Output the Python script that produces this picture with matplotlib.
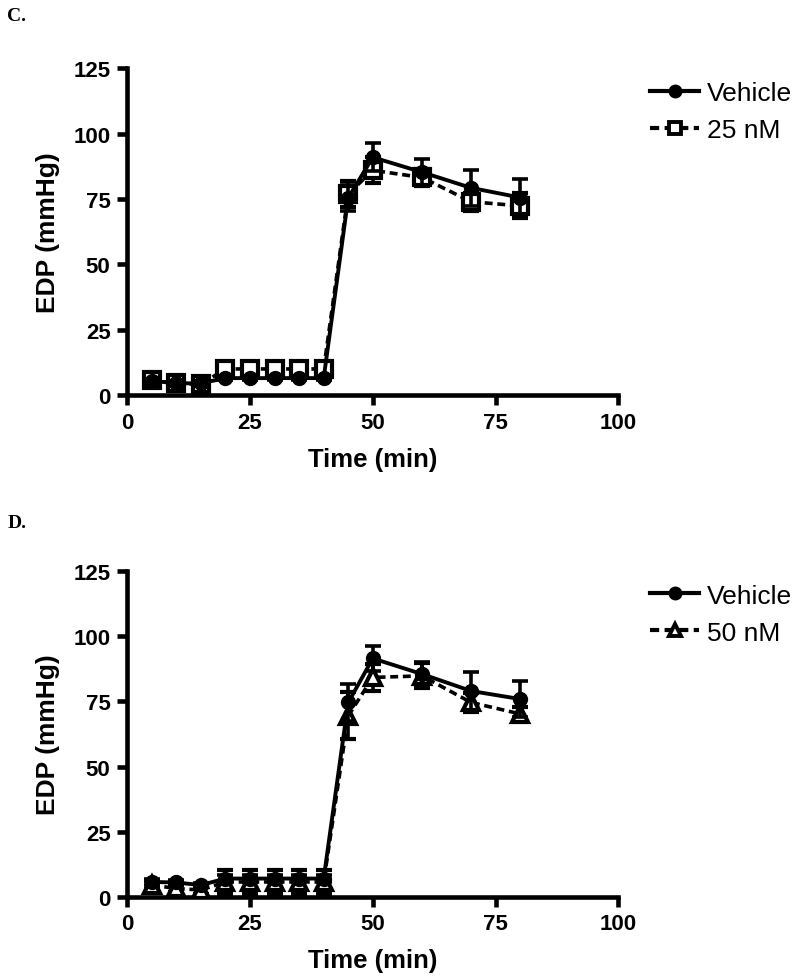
import numpy as np
from matplotlib import pyplot as plt
from matplotlib.lines import Line2D

plt.rcParams['font.family'] = ['Liberation Sans', 'DejaVu Sans']

# time points (min)
time = [5, 10, 15, 20, 25, 30, 35, 40, 45, 50, 60, 70, 80]

# panel C
veh_c = [5.5, 4.5, 4.5, 6.5, 6.5, 6.5, 6.5, 6.5, 75.5, 91.0, 85.3, 79.3, 75.6]
veh_c_err = [0.8, 0.6, 0.6, 0.8, 0.8, 0.8, 0.8, 0.8, 5.0, 5.4, 5.0, 7.0, 7.0]
nm25 = [5.8, 4.5, 4.1, 10.0, 10.0, 10.0, 10.0, 10.0, 77.0, 86.0, 83.3, 74.0, 72.4]
nm25_err = [0.8, 0.6, 0.6, 1.2, 1.2, 1.2, 1.2, 1.2, 5.0, 5.0, 3.3, 3.5, 4.8]

# panel D
veh_d = [5.7, 5.5, 4.5, 7.0, 7.0, 7.0, 7.0, 7.0, 74.6, 91.5, 85.5, 79.0, 75.9]
veh_d_err = [1.0, 0.8, 0.8, 1.2, 1.2, 1.2, 1.2, 1.2, 7.0, 4.8, 4.7, 7.4, 7.0]
nm50 = [4.5, 3.2, 2.6, 5.7, 5.7, 5.7, 5.7, 5.7, 69.5, 84.2, 84.8, 74.6, 70.2]
nm50_err = [1.5, 1.5, 1.5, 4.5, 4.5, 4.5, 4.5, 4.5, 9.0, 5.2, 4.8, 3.8, 2.6]

xticks = [0, 25, 50, 75, 100]
yticks = [0, 25, 50, 75, 100, 125]

dash = (0, (2.2, 1.3))


def panel(ax, veh, veh_err, drug, drug_err, drug_label, drug_marker, ms):
    ax.errorbar(time, drug, yerr=drug_err, color='black', linestyle=dash,
                linewidth=2.6, marker=drug_marker, markersize=ms, markerfacecolor='white',
                markeredgewidth=3.0, capsize=6, capthick=2.6, elinewidth=2.6, zorder=3)
    ax.errorbar(time, veh, yerr=veh_err, color='black', linestyle='-',
                linewidth=2.8, marker='o', markersize=10, capsize=6, capthick=2.6,
                elinewidth=2.6, zorder=4)
    ax.set_xlim(0, 100)
    ax.set_ylim(0, 125)
    ax.set_xticks(xticks)
    ax.set_yticks(yticks)
    ax.spines['right'].set_visible(False)
    ax.spines['top'].set_visible(False)
    ax.spines['left'].set_linewidth(3.3)
    ax.spines['bottom'].set_linewidth(3.3)
    ax.tick_params(width=3.3, length=7, labelsize=16, pad=5)
    for lab in ax.get_xticklabels() + ax.get_yticklabels():
        lab.set_fontweight('bold')
    ax.set_xlabel('Time (min)', fontsize=18.5, fontweight='bold', labelpad=10)
    ax.set_ylabel('EDP (mmHg)', fontsize=19, fontweight='bold', labelpad=10)
    handles = [
        Line2D([], [], color='black', linewidth=3, marker='o', markersize=9),
        Line2D([], [], color='black', linewidth=3, linestyle=dash, marker=drug_marker,
               markersize=9, markerfacecolor='white', markeredgewidth=2.8),
    ]
    ax.legend(handles, ['Vehicle', drug_label], loc='upper left', bbox_to_anchor=(1.065, 0.962),
              frameon=False, fontsize=19, handlelength=1.85, handletextpad=0.28,
              labelspacing=0.5, borderaxespad=0.0, borderpad=0.0)


fig = plt.figure(figsize=(8, 9.78), dpi=100)
ax1 = fig.add_axes([0.159, 0.595, 0.614, 0.334])
ax2 = fig.add_axes([0.159, 0.082, 0.614, 0.333])

panel(ax1, veh_c, veh_c_err, nm25, nm25_err, '25 nM', 's', 12)
panel(ax2, veh_d, veh_d_err, nm50, nm50_err, '50 nM', '^', 11.5)

fig.text(0.009, 0.983, 'C.', fontsize=14, fontweight='bold', family='Liberation Serif', va='center')
fig.text(0.009, 0.465, 'D.', fontsize=14, fontweight='bold', family='Liberation Serif', va='center')

fig.savefig('out.png', dpi=100)
